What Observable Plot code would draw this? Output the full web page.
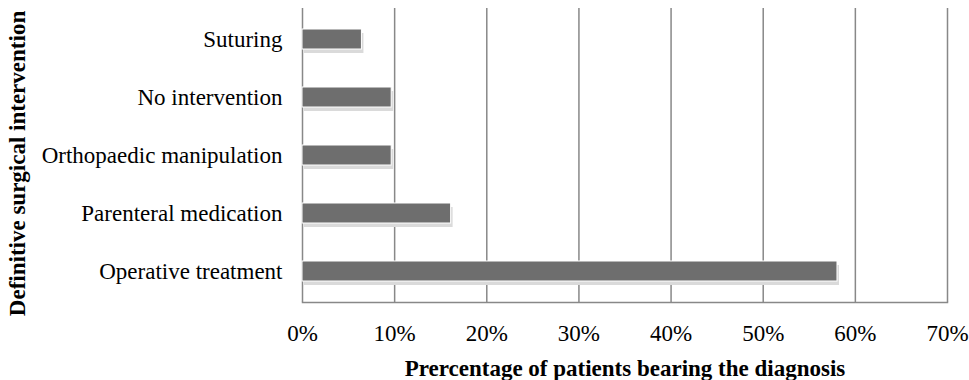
<!DOCTYPE html>
<html><head><meta charset="utf-8">
<script src="https://cdn.jsdelivr.net/npm/d3@7"></script>
<script src="https://cdn.jsdelivr.net/npm/@observablehq/plot@0.6"></script>
<style>
body{margin:0;background:#fff}
svg [aria-label="x-axis label"], svg [aria-label="y-axis label"]{font-weight:bold}
</style>
</head><body><div id="chart"></div>
<script>
const categories = ["Suturing", "No intervention", "Orthopaedic manipulation", "Parenteral medication", "Operative treatment"];
const values = [6.45, 9.68, 9.68, 16.13, 58.06];
const xTicks = [0, 10, 20, 30, 40, 50, 60, 70];
const xTitle = "Prercentage of patients bearing the diagnosis";
const yTitle = "Definitive surgical intervention";

const data = categories.map((c, i) => ({category: c, value: values[i]}));
const fmt = d => d + "%";

const plot = Plot.plot({
  width: 969, height: 380,
  marginLeft: 302, marginRight: 22, marginTop: 8, marginBottom: 78,
  style: {fontFamily: "'Liberation Serif', 'Times New Roman', serif", fontSize: "23px", color: "#000", background: "#fff"},
  x: {domain: [0, 70]},
  y: {domain: categories, paddingInner: 0.66, paddingOuter: 0.33},
  marks: [
    Plot.gridX(xTicks, {stroke: "#888", strokeOpacity: 1, strokeWidth: 1.5}),
    Plot.frame({anchor: "bottom", stroke: "#888", strokeWidth: 1.5}),
    Plot.barX(data, {x: "value", y: "category", fill: "#dadada", dx: 2, dy: 4}),
    Plot.barX(data, {x: "value", y: "category", fill: "#6e6e6e", stroke: "#fff", strokeWidth: 1}),
    Plot.axisX(xTicks, {tickFormat: fmt, tickSize: 0, tickPadding: 22, fontSize: 23, label: xTitle, labelArrow: "none", labelAnchor: "center", labelOffset: 73}),
    Plot.axisY({tickSize: 0, tickPadding: 20, fontSize: 23, label: yTitle, labelAnchor: "center", labelOffset: 294})
  ]
});
const yl = plot.querySelector('[aria-label="y-axis label"]');
if (yl) yl.setAttribute("transform", "translate(0,8) " + (yl.getAttribute("transform") || ""));
document.getElementById("chart").append(plot);
</script>
</body></html>
